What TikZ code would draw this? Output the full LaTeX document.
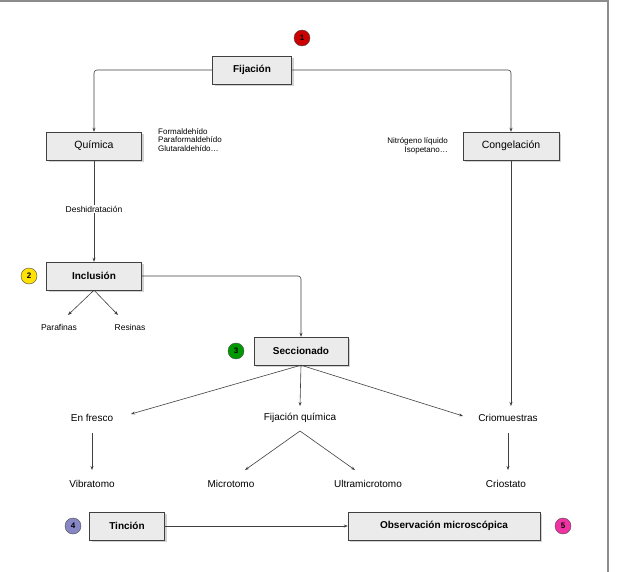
\documentclass[tikz,border=0pt]{standalone}
\usepackage{fontspec}
\setmainfont{Liberation Sans}
\usetikzlibrary{arrows.meta,shadows}
\begin{document}
\begin{tikzpicture}[x=1pt,y=-1pt,
  box/.style={draw=black!75,fill=black!8,minimum height=28pt,font=\bfseries\fontsize{10}{12}\selectfont,drop shadow={shadow xshift=2pt,shadow yshift=-2pt,opacity=0.35}},
  txt/.style={font=\fontsize{10}{11}\selectfont,inner sep=1pt},
  small/.style={font=\fontsize{8}{8.5}\selectfont,inner sep=0pt,align=left},
  num/.style={circle,draw=black!70,inner sep=0pt,minimum size=16pt,font=\bfseries\fontsize{8}{9}\selectfont},
  arr/.style={draw=black!75,line width=0.6pt,-{Stealth[length=4pt,width=3pt]}},
  ln/.style={draw=black!75,line width=0.6pt}]
\useasboundingbox (0,0) rectangle (621,572);
\fill[white] (0,0) rectangle (621,572);
\draw[black!45,line width=1.2pt] (0,1) -- (608,1) -- (608,572);
\node[box,minimum width=79pt] (fij) at (252,70) {Fijación};
\node[num,fill=red!80!black] (n1) at (302,38) {1};
\node[box,minimum width=95pt,font=\fontsize{10.5}{12}\selectfont] (qui) at (94,146) {Química};
\node[box,minimum width=96pt,font=\fontsize{10.5}{12}\selectfont] (con) at (511,146) {Congelación};
\node[small,anchor=north west] (form) at (158,128) {Formaldehído\\Paraformaldehído\\Glutaraldehído…};
\node[small,anchor=east,align=right] (nit) at (448,146) {Nitrógeno líquido\\Isopetano…};
\node[txt,font=\fontsize{8.5}{9}\selectfont] (des) at (94,209) {Deshidratación};
\node[box,minimum width=95pt] (inc) at (94,276) {Inclusión};
\node[num,fill=yellow!85!orange] (n2) at (29,276) {2};
\node[txt,font=\fontsize{8.5}{9}\selectfont] (par) at (59,327) {Parafinas};
\node[txt,font=\fontsize{8.5}{9}\selectfont] (res) at (130,327) {Resinas};
\node[box,minimum width=94pt] (sec) at (301,351) {Seccionado};
\node[num,fill=green!60!black] (n3) at (236,351) {3};
\node[txt] (fre) at (92,418) {En fresco};
\node[txt] (fq) at (300,418) {Fijación química};
\node[txt] (cri) at (508,418) {Criomuestras};
\node[txt] (vib) at (92,484) {Vibratomo};
\node[txt] (mic) at (231,484) {Microtomo};
\node[txt] (ult) at (368,484) {Ultramicrotomo};
\node[txt] (cst) at (506,484) {Criostato};
\node[box,minimum width=75pt] (tin) at (127,526) {Tinción};
\node[num,fill=blue!35!gray!70] (n4) at (73,526) {4};
\node[box,minimum width=192pt] (obs) at (444,526) {Observación microscópica};
\node[num,fill=magenta!80] (n5) at (563,526) {5};
\coordinate (tpar) at (68,315);
\coordinate (tres) at (118,315);
\coordinate (tfre) at (131,414);
\coordinate (tfq) at (300,406);
\coordinate (tcri) at (463,416);
\coordinate (bfq) at (300,431);
\coordinate (tmic) at (245,470);
\coordinate (tult) at (355,470);
\draw[arr,rounded corners=3pt] (fij.west) -| (qui.north);
\draw[arr,rounded corners=3pt] (fij.east) -| (con.north);
\draw[ln] (qui.south) -- (des.north);
\draw[arr] (des.south) -- (inc.north);
\draw[arr,rounded corners=3pt] (inc.east) -| (sec.north);
\draw[arr] (inc.south) -- (tpar);
\draw[arr] (inc.south) -- (tres);
\draw[arr] (sec.south) -- (tfre);
\draw[arr] (sec.south) -- (tfq);
\draw[arr] (sec.south) -- (tcri);
\draw[arr] (con.south) -- (511,406);
\draw[arr] (92,433) -- (92,470);
\draw[arr] (508,433) -- (508,470);
\draw[arr] (bfq) -- (tmic);
\draw[arr] (bfq) -- (tult);
\draw[arr] (tin.east) -- (obs.west);
\end{tikzpicture}
\end{document}
